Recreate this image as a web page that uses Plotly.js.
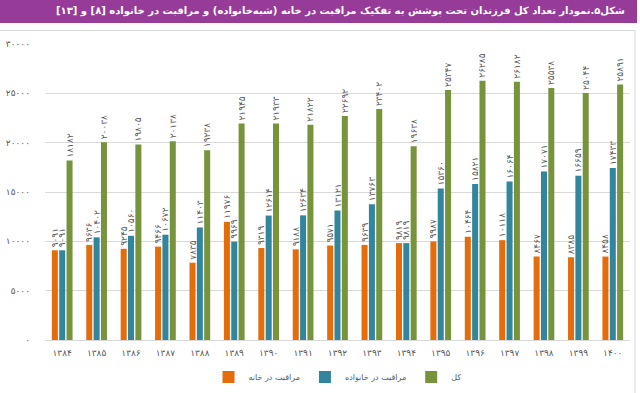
<!DOCTYPE html>
<html>
<head>
<meta charset="utf-8">
<script src="https://cdn.plot.ly/plotly-3.0.1.min.js"></script>
<style>
html,body{margin:0;padding:0;background:#fff;}
#chart{width:640px;height:393px;}
</style>
</head>
<body>
<div id="chart"></div>
<script>
// ---- data ----
var years = [1384,1385,1386,1387,1388,1389,1390,1391,1392,1393,1394,1395,1396,1397,1398,1399,1400];
var careAtHome = [9091,9636,9245,9466,7835,11976,9319,9188,9571,9639,9819,9987,10464,10118,8467,8385,8458];
var careInFamily = [9091,10402,10560,10672,11403,9969,12614,12634,13121,13763,9819,15360,15821,16064,17071,16659,17433];
var total = [18182,20038,19805,20138,19238,21945,21933,21822,22692,23402,19638,25347,26285,26182,25538,25044,25891];
var yTicks = [0,5000,10000,15000,20000,25000,30000];
var seriesNames = ['مراقبت در خانه','مراقبت در خانواده','کل'];
var titleText = 'شکل۵.نمودار تعداد کل فرزندان تحت پوشش به تفکیک مراقبت در خانه (شبه‌خانواده) و مراقبت در خانواده [۸] و [۱۳]';

function fa(n){
  var d='۰۱۲۳۴۵۶۷۸۹';
  return String(n).replace(/[0-9]/g,function(c){return d[+c];});
}
var cats = years.map(fa);
var colors = ['#E46C0A','#31859C','#77933C'];
var vals = [careAtHome, careInFamily, total];
var font = 'DejaVu Sans, Noto Sans, sans-serif';

var traces = vals.map(function(v,i){
  return {
    type:'bar', x:cats, y:v, name:seriesNames[i],
    marker:{color:colors[i]},
    text:v.map(fa), textposition:'outside', textangle:-90,
    constraintext:'none', cliponaxis:false,
    textfont:{family:font,size:9,color:'#595959'},
    hoverinfo:'none'
  };
});

// plot area: x 45..630, y 44..340
var L=45, R=630, T=44, B=340;
function px(x){return (x-L)/(R-L);}
function py(y){return (B-y)/(B-T);}

var layout = {
  width:640, height:393,
  margin:{l:L, r:640-R, t:T, b:393-B, pad:0, autoexpand:false},
  paper_bgcolor:'#fff', plot_bgcolor:'#fff',
  barmode:'group', bargap:0.36, bargroupgap:0.18,
  showlegend:true,
  legend:{orientation:'h', x:0.5, xanchor:'center', y:py(377), yanchor:'middle',
          font:{family:font,size:8,color:'#595959'}, itemwidth:30, tracegroupgap:0},
  xaxis:{type:'category', showgrid:false, zeroline:false, showline:false,
         ticks:'', ticklabelstandoff:6, tickfont:{family:font,size:9,color:'#595959'}, fixedrange:true},
  yaxis:{range:[0,30000], tickvals:yTicks, ticktext:yTicks.map(fa),
         showgrid:true, gridcolor:'#d9d9d9', gridwidth:1, zeroline:true, zerolinecolor:'#d9d9d9',
         showline:false, ticks:'', ticklabelstandoff:14,
         tickfont:{family:font,size:9,color:'#595959'}, fixedrange:true},
  shapes:[
    {type:'rect', xref:'paper', yref:'paper', x0:px(0), x1:px(637), y0:py(23), y1:py(0),
     fillcolor:'#963C98', line:{width:0}, layer:'below'},
    {type:'line', xref:'paper', yref:'paper', x0:px(0), x1:px(635), y0:py(30.5), y1:py(30.5),
     line:{color:'#d9d9d9', width:1}},
    {type:'line', xref:'paper', yref:'paper', x0:px(635), x1:px(635), y0:py(30.5), y1:py(393),
     line:{color:'#d9d9d9', width:1}}
  ],
  annotations:[
    {xref:'paper', yref:'paper', x:px(627), y:py(11.5), xanchor:'right', yanchor:'middle',
     text:'<b>'+titleText+'</b>', showarrow:false,
     font:{family:font,size:10,color:'#ffffff'}}
  ]
};

Plotly.newPlot('chart', traces, layout, {displayModeBar:false, staticPlot:true});
</script>
</body>
</html>
